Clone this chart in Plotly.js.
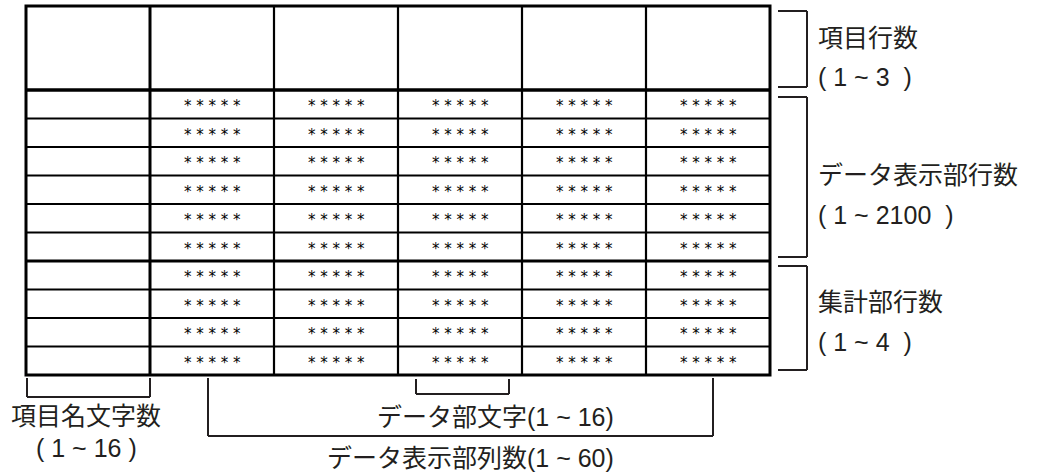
<!DOCTYPE html>
<html>
<head>
<meta charset="utf-8">
<script src="https://cdn.plot.ly/plotly-3.0.1.min.js"></script>
<style>html,body{margin:0;padding:0;background:#fff;}#chart{width:1039px;height:472px;}</style>
</head>
<body>
<div id="chart"></div>
<script>
// ---- data ----
const headerCells = ['', '', '', '', '', ''];          // 項目 row (empty)
const dataRowValues = [
  ['*****','*****','*****','*****','*****'],
  ['*****','*****','*****','*****','*****'],
  ['*****','*****','*****','*****','*****'],
  ['*****','*****','*****','*****','*****'],
  ['*****','*****','*****','*****','*****'],
  ['*****','*****','*****','*****','*****']
];
const summaryRowValues = [
  ['*****','*****','*****','*****','*****'],
  ['*****','*****','*****','*****','*****'],
  ['*****','*****','*****','*****','*****'],
  ['*****','*****','*****','*****','*****']
];
const rightLabels = [
  ['項目行数', '( 1 ~ 3  )'],
  ['データ表示部行数', '( 1 ~ 2100  )'],
  ['集計部行数', '( 1 ~ 4  )']
];
const bottomLeftLabel = ['項目名文字数', '( 1 ~ 16 )'];
const dataCharLabel = 'データ部文字(1 ~ 16)';
const dataColLabel = 'データ表示部列数(1 ~ 60)';

// ---- layout constants (pixels) ----
const L = 26, TOP = 6, colW = 124, headH = 84, rowH = 28.5;
const nCols = headerCells.length;
const nData = dataRowValues.length;
const nRows = nData + summaryRowValues.length;
const R = L + colW * nCols;
const headB = TOP + headH;
const sumT = headB + rowH * nData;
const B = headB + rowH * nRows;
const black = '#000', gray = '#231f20';
const FONT = 'Liberation Sans, Arial, Noto Sans CJK JP';
const shapes = [], ann = [];
function line(x0,y0,x1,y1,w,c){shapes.push({type:'line',xref:'x',yref:'y',x0,y0,x1,y1,line:{color:c||black,width:w}});}
function label(x,y,text,anchor){ann.push({x,y,xref:'x',yref:'y',text,showarrow:false,xanchor:anchor||'left',yanchor:'middle',font:{family:FONT,size:25,color:gray}});}

// rows
const allRows = dataRowValues.concat(summaryRowValues);
for (let r = 1; r < nRows; r++) {
  const y = headB + r * rowH;
  line(L, y, R, y, r === nData ? 3 : 2);
}
line(L, headB, R, headB, 3.5);
// columns
for (let c = 1; c < nCols; c++) {
  const x = L + c * colW;
  line(x, TOP, x, B, c === 1 ? 3 : 2.2);
}
// outer border
shapes.push({type:'rect',xref:'x',yref:'y',x0:L,y0:TOP,x1:R,y1:B,line:{color:black,width:3}});

// cell text
allRows.forEach((vals, r) => {
  vals.forEach((v, c) => {
    ann.push({x: L + (c + 1.5) * colW, y: headB + (r + 0.5) * rowH + 2, xref:'x', yref:'y',
      text: v.split('').join(' '), showarrow:false, xanchor:'center', yanchor:'middle',
      font:{family:'DejaVu Sans', size:15, color:black}});
  });
});

// right brackets
const bx0 = 778, bx1 = 807, lx = 816;
const spans = [[TOP + 5, headB - 3], [headB + 7, sumT - 4], [sumT + 5, B - 5]];
const labelY = [[TOP + 32, TOP + 71], [headB + 85, headB + 125], [sumT + 41, sumT + 81]];
spans.forEach((s, i) => {
  line(bx0, s[0], bx1, s[0], 2, gray);
  line(bx1, s[0], bx1, s[1], 2, gray);
  line(bx0, s[1], bx1, s[1], 2, gray);
  label(lx, labelY[i][0], rightLabels[i][0]);
  label(lx, labelY[i][1], rightLabels[i][1]);
});

// bottom bracket under name column
const by0 = B + 3;
line(L + 1, by0, L + 1, by0 + 19, 2, gray);
line(L + 1, by0 + 19, L + colW, by0 + 19, 2, gray);
line(L + colW, by0, L + colW, by0 + 19, 2, gray);
label(L + colW/2 - 2, B + 41, bottomLeftLabel[0], 'center');
label(L + colW/2 - 2, B + 73, bottomLeftLabel[1], 'center');

// data char bracket (inside column 4)
const dcx0 = L + 3 * colW + 18, dcx1 = L + 4 * colW - 13;
line(dcx0, by0 + 1, dcx0, by0 + 16, 2, gray);
line(dcx0, by0 + 16, dcx1, by0 + 16, 2, gray);
line(dcx1, by0 + 1, dcx1, by0 + 16, 2, gray);

// data columns bracket
const dx0 = L + colW + 58, dx1 = L + 5 * colW + 67, dy = B + 61;
line(dx0, by0, dx0, dy, 2, gray);
line(dx0, dy, dx1, dy, 2, gray);
line(dx1, by0, dx1, dy, 2, gray);
label(616, B + 42, dataCharLabel, 'right');
label(616, B + 83, dataColLabel, 'right');

const layout = {
  width: 1039, height: 472, margin:{l:0,r:0,t:0,b:0},
  paper_bgcolor:'#fff', plot_bgcolor:'#fff',
  xaxis:{range:[0,1039], visible:false, fixedrange:true},
  yaxis:{range:[472,0], visible:false, fixedrange:true},
  shapes, annotations: ann, showlegend:false
};
Plotly.newPlot('chart', [{x:[], y:[], type:'scatter', mode:'markers', hoverinfo:'skip'}], layout, {staticPlot:true, displayModeBar:false});
</script>
</body>
</html>
